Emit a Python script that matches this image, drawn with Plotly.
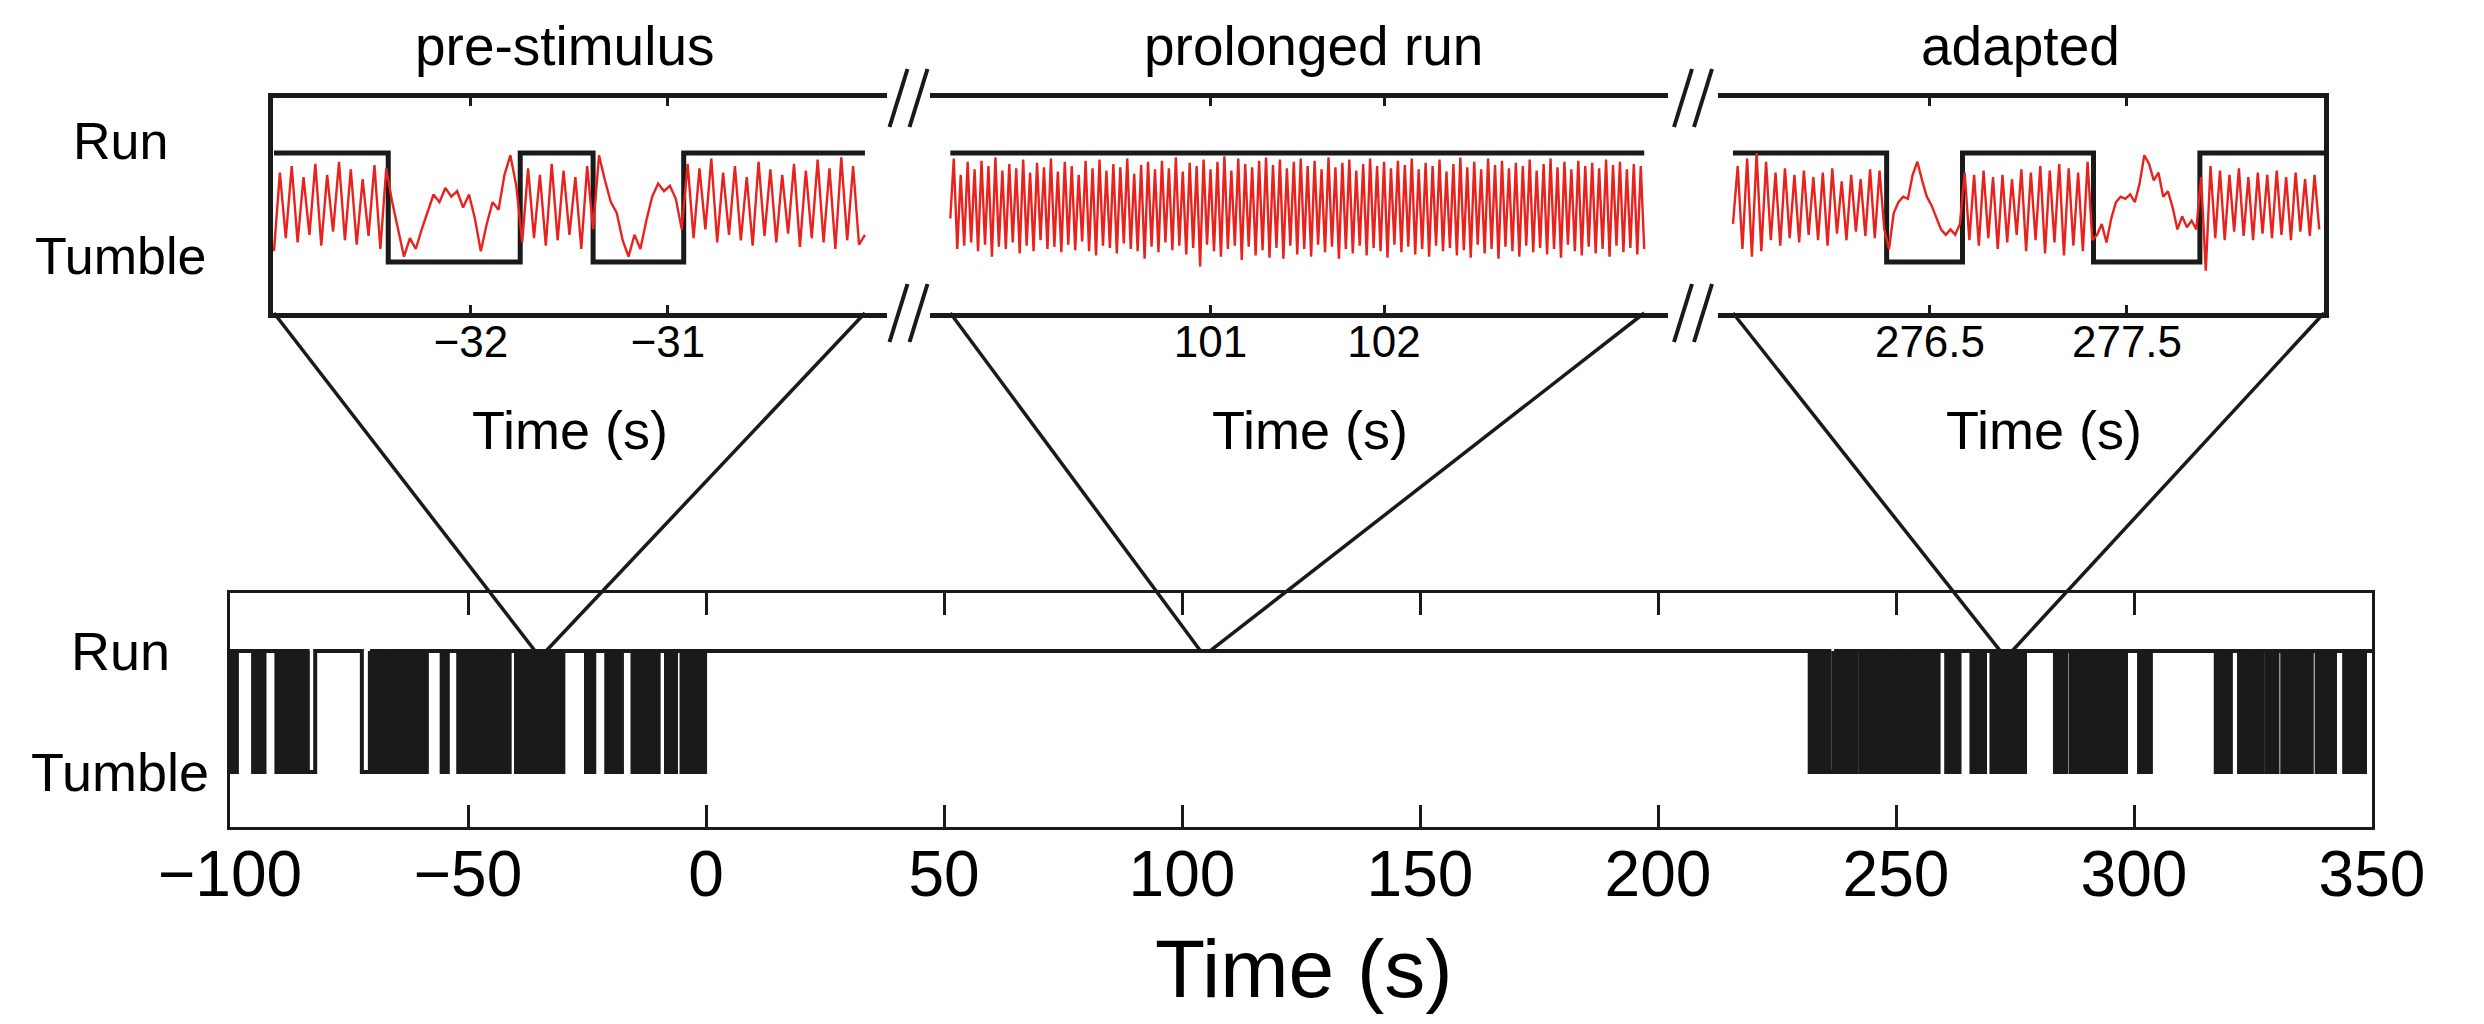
import plotly.graph_objects as go

W, H = 2484, 1024
PAGE_MARGIN = 8          # default body margin of the html page

# ---------------- data ----------------
panel_titles = ["pre-stimulus", "prolonged run", "adapted"]
state_labels = ["Run", "Tumble"]          # Run = 1, Tumble = 0

# zoomed windows (s) and tumble intervals inside them
pre_window = [-33.0, -30.0]
pre_tumbles = [[-32.42, -31.75], [-31.38, -30.92]]
pre_signal_dt = 0.03
pre_signal = [
    0.10, 0.82, 0.22, 0.88, 0.18, 0.78, 0.25, 0.90, 0.15, 0.80,
    0.28, 0.92, 0.20, 0.85, 0.16, 0.76, 0.24, 0.89, 0.12, 0.86,
    0.55, 0.30, 0.05, 0.22, 0.12, 0.30, 0.45, 0.62, 0.55, 0.68,
    0.60, 0.65, 0.50, 0.62, 0.40, 0.10, 0.35, 0.55, 0.48, 0.80,
    0.98, 0.70,
    0.18, 0.86, 0.22, 0.80, 0.15, 0.90, 0.20, 0.84, 0.25, 0.78,
    0.12, 0.88, 0.30,
    0.98, 0.75, 0.55, 0.45, 0.20, 0.05, 0.25, 0.12, 0.38, 0.60,
    0.72, 0.65, 0.70, 0.58, 0.30,
    0.90, 0.22, 0.86, 0.30, 0.95, 0.18, 0.82, 0.25, 0.88, 0.20,
    0.78, 0.15, 0.92, 0.24, 0.85, 0.18, 0.80, 0.26, 0.90, 0.14,
    0.84, 0.22, 0.94, 0.18, 0.86, 0.12, 0.96, 0.20, 0.88, 0.16,
    0.25,
]

run_window = [99.5, 103.5]
run_tumbles = []
run_signal_dt = 0.02
run_signal = [
    0.40, 0.95, 0.12, 0.80, 0.15, 0.92, 0.18, 0.85, 0.10, 0.93,
    0.16, 0.88, 0.05, 0.96, 0.14, 0.84, 0.12, 0.90, 0.18, 0.86,
    0.08, 0.94, 0.15, 0.82, 0.10, 0.91, 0.20, 0.87, 0.12, 0.95,
    0.14, 0.83, 0.09, 0.92, 0.16, 0.88, 0.11, 0.80, 0.19, 0.93,
    0.10, 0.86, 0.06, 0.94, 0.15, 0.84, 0.13, 0.90, 0.08, 0.87,
    0.17, 0.95, 0.12, 0.81, 0.10, 0.89, 0.03, 0.92, 0.14, 0.85,
    0.09, 0.93, 0.18, 0.86, 0.11, 0.96, 0.15, 0.83, 0.07, 0.91,
    0.13, 0.88, -0.04, 0.94, 0.16, 0.85, 0.10, 0.92, 0.05, 0.97,
    0.12, 0.84, 0.15, 0.95, 0.02, 0.90, 0.14, 0.87, 0.06, 0.93,
    0.11, 0.96, 0.04, 0.89, 0.13, 0.94, 0.03, 0.86, 0.15, 0.92,
    0.07, 0.95, 0.12, 0.88, 0.05, 0.93, 0.16, 0.85, 0.09, 0.96,
    0.14, 0.87, 0.03, 0.91, 0.12, 0.94, 0.08, 0.84, 0.15, 0.90,
    0.06, 0.95, 0.13, 0.88, 0.10, 0.92, 0.04, 0.86, 0.16, 0.93,
    0.09, 0.89, 0.14, 0.95, 0.07, 0.85, 0.12, 0.91, 0.05, 0.88,
    0.15, 0.94, 0.10, 0.83, 0.13, 0.90, 0.06, 0.96, 0.11, 0.87,
    0.04, 0.92, 0.16, 0.85, 0.08, 0.95, 0.12, 0.89, 0.03, 0.93,
    0.14, 0.86, 0.10, 0.91, 0.05, 0.88, 0.15, 0.94, 0.09, 0.84,
    0.13, 0.90, 0.07, 0.95, 0.12, 0.87, 0.04, 0.92, 0.16, 0.85,
    0.10, 0.93, 0.06, 0.88, 0.14, 0.91, 0.08, 0.86, 0.12, 0.94,
    0.05, 0.89, 0.15, 0.92, 0.09, 0.85, 0.13, 0.90, 0.07, 0.88,
    0.12,
]

adapted_window = [275.5, 278.5]
adapted_tumbles = [[276.28, 276.665], [277.33, 277.87]]
adapted_signal_dt = 0.024
adapted_signal = [
    0.35, 0.88, 0.12, 0.95, 0.05, 1.00, 0.10, 0.92, 0.20, 0.82,
    0.15, 0.86, 0.22, 0.80, 0.18, 0.84, 0.25, 0.78, 0.20, 0.82,
    0.15, 0.86, 0.26, 0.74, 0.20, 0.80, 0.28, 0.76, 0.24, 0.85,
    0.22, 0.84, 0.30,
    0.12, 0.45, 0.55, 0.60, 0.58, 0.80, 0.92, 0.75, 0.60, 0.52,
    0.40, 0.30, 0.25, 0.30, 0.25, 0.35,
    0.82, 0.20, 0.80, 0.15, 0.84, 0.22, 0.78, 0.12, 0.80, 0.18,
    0.76, 0.25, 0.85, 0.10, 0.82, 0.20, 0.88, 0.08, 0.84, 0.18,
    0.90, 0.06, 0.86, 0.15, 0.82, 0.10, 0.92, 0.20,
    0.25, 0.35, 0.18, 0.40, 0.55, 0.60, 0.58, 0.62, 0.55, 0.72,
    0.98, 0.90, 0.75, 0.82, 0.60, 0.65, 0.50, 0.30, 0.42, 0.32,
    0.38, 0.30, 0.78,
    -0.08, 0.88, 0.22, 0.84, 0.20, 0.80, 0.28, 0.86, 0.24, 0.78,
    0.20, 0.82, 0.26, 0.80, 0.22, 0.84, 0.25, 0.78, 0.20, 0.82,
    0.28, 0.76, 0.24, 0.80, 0.30,
]

# full record: dense run/tumble switching bursts and isolated long tumbles (s)
full_range = [-100, 350]
burst_intervals = [
    [-100.0, -98.6], [-95.1, -92.8], [-90.2, -88.8], [-88.1, -85.1], [-84.6, -83.7],
    [-70.6, -66.7], [-66.2, -64.6], [-64.3, -58.7], [-55.5, -54.3], [-52.0, -43.6],
    [-42.9, -41.3], [-39.9, -34.9], [-34.3, -30.0], [-25.2, -23.5], [-20.9, -17.7],
    [-15.4, -10.0], [-8.4, -6.3], [-5.1, -0.2],
    [231.9, 236.0], [237.0, 238.9], [239.6, 241.7], [242.6, 247.7], [248.4, 249.6],
    [250.2, 251.9], [252.6, 258.9], [260.6, 261.5], [261.8, 263.3], [265.9, 268.7],
    [270.1, 271.5], [271.8, 272.5], [272.9, 273.6], [274.0, 277.1], [283.4, 285.7],
    [286.7, 290.4], [290.9, 298.3], [301.1, 303.5], [317.2, 320.3], [322.1, 324.4],
    [325.1, 327.0], [327.9, 330.1], [331.2, 337.3], [338.4, 340.5], [340.8, 342.2],
    [344.2, 348.5],
]
long_tumbles = [[-83.7, -82.1], [-72.3, -70.6], [236.0, 236.9]]

# where each zoom connector meets the full record (s)
zoom_targets = [[-35.9, -33.6], [103.9, 105.9], [271.9, 274.4]]

top_tickvals = [[-32, -31], [101, 102], [276.5, 277.5]]
bottom_tickvals = [-100, -50, 0, 50, 100, 150, 200, 250, 300, 350]

# ---------------- layout geometry ----------------
FONT = "Liberation Sans, Arial, Helvetica, sans-serif"
BLACK = "#1a1a1a"
RED = "#e8231e"

FW, FH = W - 2 * PAGE_MARGIN, H - 2 * PAGE_MARGIN


def pxx(x):
    return (x - PAGE_MARGIN) / FW


def pxy(y):
    return 1 - (y - PAGE_MARGIN) / FH


top_ydom = [pxy(313), pxy(98)]
top_yrange = [-0.467, 1.505]
bot_xdom = [pxx(230), pxx(2372)]
bot_ydom = [pxy(827), pxy(593)]
bot_yrange = [-0.455, 1.479]

panel_xdom = [[pxx(273), pxx(887)], [pxx(930), pxx(1668)], [pxx(1718), pxx(2324)]]
panel_xrange = [[-33.005, -29.888], [99.383, 103.637], [275.424, 278.5]]

windows = [pre_window, run_window, adapted_window]
tumbles = [pre_tumbles, run_tumbles, adapted_tumbles]
signals = [pre_signal, run_signal, adapted_signal]
dts = [pre_signal_dt, run_signal_dt, adapted_signal_dt]


def step_xy(t0, t1, intervals):
    xs, ys = [t0], [1]
    for a, b in sorted(intervals):
        xs += [a, a, b, b]
        ys += [1, 0, 0, 1]
    xs.append(t1)
    ys.append(1)
    return xs, ys


def map_lin(v, rng, dom):
    return dom[0] + (v - rng[0]) / (rng[1] - rng[0]) * (dom[1] - dom[0])


fig = go.Figure()

for i in range(3):
    xa = "x" if i == 0 else f"x{i+1}"
    ya = "y" if i == 0 else f"y{i+1}"
    sx, sy = step_xy(windows[i][0], windows[i][1], tumbles[i])
    fig.add_trace(go.Scatter(x=sx, y=sy, mode="lines", xaxis=xa, yaxis=ya,
                             line=dict(color=BLACK, width=5), showlegend=False,
                             hoverinfo="skip"))
    tt = [windows[i][0] + k * dts[i] for k in range(len(signals[i]))]
    fig.add_trace(go.Scatter(x=tt, y=signals[i], mode="lines", xaxis=xa, yaxis=ya,
                             line=dict(color=RED, width=2.4), showlegend=False))

# bottom: filled switching bursts + step outline
bx, by = [], []
for a, b in burst_intervals:
    bx += [a, a, b, b, a, None]
    by += [1, 0, 0, 1, 1, None]
fig.add_trace(go.Scatter(x=bx, y=by, mode="lines", fill="toself", fillcolor=BLACK,
                         line=dict(color=BLACK, width=4), xaxis="x4", yaxis="y4",
                         showlegend=False, hoverinfo="skip"))
sx, sy = step_xy(full_range[0], full_range[1], burst_intervals + long_tumbles)
fig.add_trace(go.Scatter(x=sx, y=sy, mode="lines", line=dict(color=BLACK, width=4),
                         xaxis="x4", yaxis="y4", showlegend=False))

layout = dict(
    width=FW, height=FH, margin=dict(l=0, r=0, t=0, b=0),
    paper_bgcolor="white", plot_bgcolor="white",
    font=dict(family=FONT, color="black"), showlegend=False,
)

for i in range(3):
    xk = "xaxis" if i == 0 else f"xaxis{i+1}"
    yk = "yaxis" if i == 0 else f"yaxis{i+1}"
    layout[xk] = dict(domain=panel_xdom[i], range=panel_xrange[i],
                      anchor="y" if i == 0 else f"y{i+1}",
                      showline=True, linewidth=5, linecolor=BLACK, mirror="ticks",
                      ticks="inside", ticklen=8, tickwidth=3, tickcolor=BLACK,
                      tickvals=top_tickvals[i], tickfont=dict(size=44),
                      ticklabelstandoff=-14,
                      showgrid=False, zeroline=False, fixedrange=True)
    layout[yk] = dict(domain=top_ydom, range=top_yrange,
                      anchor="x" if i == 0 else f"x{i+1}",
                      showline=(i != 1), linewidth=5, linecolor=BLACK,
                      side="right" if i == 2 else "left",
                      showticklabels=False, ticks="", showgrid=False, zeroline=False)

layout["xaxis4"] = dict(domain=bot_xdom, range=full_range, anchor="y4",
                        showline=True, linewidth=3, linecolor=BLACK, mirror="ticks",
                        ticks="inside", ticklen=22, tickwidth=3, tickcolor=BLACK,
                        tickvals=bottom_tickvals, tickfont=dict(size=64),
                        ticklabelstandoff=-11,
                        showgrid=False, zeroline=False, automargin=False)
layout["yaxis4"] = dict(domain=bot_ydom, range=bot_yrange, anchor="x4",
                        showline=True, linewidth=3, linecolor=BLACK, mirror=True,
                        showticklabels=False, ticks="", showgrid=False, zeroline=False)

ann = []
title_x = [565, 1313, 2020]
time_x = [570, 1310, 2044]
for i in range(3):
    ann.append(dict(text=panel_titles[i], x=pxx(title_x[i]), y=pxy(46), xref="paper",
                    yref="paper", showarrow=False, font=dict(size=55),
                    xanchor="center", yanchor="middle"))
    ann.append(dict(text="Time (s)", x=pxx(time_x[i]), y=pxy(430), xref="paper",
                    yref="paper", showarrow=False, font=dict(size=54),
                    xanchor="center", yanchor="middle"))
ann.append(dict(text="Time (s)", x=pxx(1304), y=pxy(968), xref="paper",
                yref="paper", showarrow=False, font=dict(size=82),
                xanchor="center", yanchor="middle"))
for lab, val, ys in zip(state_labels, [1, 0], [12, 6]):
    ann.append(dict(text=lab, x=pxx(120), y=val, xref="paper", yref="y",
                    yshift=ys, showarrow=False, font=dict(size=52),
                    xanchor="center", yanchor="middle"))
    ann.append(dict(text=lab, x=pxx(120), y=val, xref="paper", yref="y4",
                    showarrow=False, font=dict(size=54),
                    xanchor="center", yanchor="middle"))
layout["annotations"] = ann

shapes = []
# zoom connectors
run_y_paper = map_lin(1, bot_yrange, bot_ydom)
for i in range(3):
    for k in range(2):
        x0 = map_lin(windows[i][k], panel_xrange[i], panel_xdom[i])
        x1 = map_lin(zoom_targets[i][k], full_range, bot_xdom)
        shapes.append(dict(type="line", xref="paper", yref="paper",
                           x0=x0, y0=top_ydom[0], x1=x1, y1=run_y_paper,
                           line=dict(color=BLACK, width=3.5)))
# axis-break marks
for gap in [(887, 930), (1668, 1718)]:
    mid = (gap[0] + gap[1]) / 2
    for cy in (98, 313):
        for off in (-10, 10):
            cx = mid + off
            shapes.append(dict(type="line", xref="paper", yref="paper",
                               x0=pxx(cx - 9), y0=pxy(cy + 29),
                               x1=pxx(cx + 9), y1=pxy(cy - 29),
                               line=dict(color=BLACK, width=4)))
layout["shapes"] = shapes

fig.update_layout(**layout)
fig.write_html("out.html")
